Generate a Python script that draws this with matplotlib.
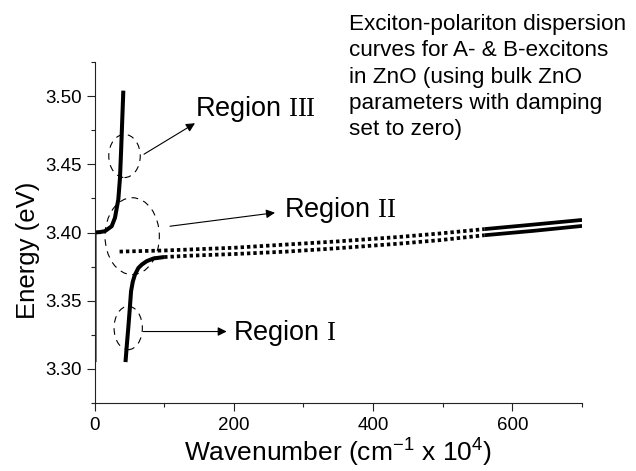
import matplotlib
matplotlib.use("Agg")
import matplotlib.pyplot as plt
from matplotlib.patches import Ellipse
from matplotlib.ticker import MultipleLocator

plt.rcParams['font.family'] = ['Liberation Sans', 'DejaVu Sans']
plt.rcParams['mathtext.fontset'] = 'custom'
plt.rcParams['mathtext.rm'] = 'Liberation Serif'
plt.rcParams['mathtext.sf'] = 'Liberation Sans'

# ---- data (wavenumber in cm^-1 x 10^4, energy in eV) ----
# upper polariton branch (solid), incl. the vertical segment drawn at k = 0
upb_k = [0, 0, 8, 15, 24.7, 29.4, 34.2, 36.6, 38.2, 39.8, 41.4]
upb_E = [3.305, 3.400, 3.4003, 3.401, 3.4046, 3.4108, 3.4243, 3.440, 3.460, 3.482, 3.504]

# lower polariton branch, steep solid part
lpb_k = [44.5, 46.5, 48.5, 50.5, 52.5, 55, 58, 63, 68, 75, 85, 100]
lpb_E = [3.305, 3.318, 3.330, 3.343, 3.357, 3.364, 3.369, 3.374, 3.3765, 3.379, 3.381, 3.382]

# lower polariton branch, flat part (dotted, then solid where points are dense)
lpb2_k = [100, 137, 200, 276, 350, 439, 496, 560]
lpb2_E = [3.3820, 3.3830, 3.3842, 3.3860, 3.3885, 3.3919, 3.3944, 3.3980]
lpb3_k = [560, 630, 700]
lpb3_E = [3.3980, 3.4012, 3.4048]

# second (B-exciton) branch, dotted then solid
exb_k = [36, 100, 200, 276, 350, 439, 496, 560]
exb_E = [3.3860, 3.3868, 3.3888, 3.3912, 3.3935, 3.3968, 3.3993, 3.4025]
exb2_k = [560, 630, 700]
exb2_E = [3.4025, 3.4058, 3.4092]

# region markers: (center k, center E, width k, height E)
ellipses = [(43.1, 3.4561, 45.2, 0.0316),
            (54.1, 3.3973, 78.0, 0.0564),
            (48.4, 3.3300, 40.6, 0.0318)]
region_labels = [r'Region $\mathrm{III}$', r'Region $\mathrm{II}$', r'Region $\mathrm{I}$']
arrow_start = [(71.1, 3.4574), (108.4, 3.4046), (70.1, 3.3274)]
arrow_end = [(144.3, 3.4801), (259.2, 3.4145), (189.8, 3.3274)]
label_pos = [(144.3, 3.4851), (272.1, 3.4115), (199.3, 3.3213)]

note = ("Exciton-polariton dispersion\ncurves for A- & B-excitons\n"
        "in ZnO (using bulk ZnO\nparameters with damping\nset to zero)")

fig = plt.figure(figsize=(6.36, 4.71), dpi=100)
ax = fig.add_axes([94.5 / 636, 68 / 471, 487.5 / 636, 341 / 471])

solid_lw = 2.9
dot_lw = 2.7
ax.plot(upb_k, upb_E, color='black', lw=solid_lw, solid_capstyle='butt', solid_joinstyle='round')
ax.plot(lpb_k, lpb_E, color='black', lw=solid_lw, solid_capstyle='butt', solid_joinstyle='round')
ax.plot(lpb2_k, lpb2_E, color='black', lw=dot_lw, linestyle=(0, (0.9, 0.8)), dash_capstyle='butt')
ax.plot(lpb3_k, lpb3_E, color='black', lw=dot_lw, solid_capstyle='butt')
ax.plot(exb_k, exb_E, color='black', lw=dot_lw, linestyle=(0, (0.9, 0.8)), dash_capstyle='butt')
ax.plot(exb2_k, exb2_E, color='black', lw=dot_lw, solid_capstyle='butt')

for (cx, cy, w, h) in ellipses:
    ax.add_patch(Ellipse((cx, cy), w, h, fill=False, edgecolor='black', lw=0.8,
                         linestyle=(0, (6, 5)), zorder=3))

for s, e, p, t in zip(arrow_start, arrow_end, label_pos, region_labels):
    ax.annotate('', xy=e, xytext=s,
                arrowprops=dict(arrowstyle='-|>', color='black', lw=0.8,
                                mutation_scale=13, shrinkA=0, shrinkB=0))
    ax.text(p[0], p[1], t, fontsize=19.5, ha='left', va='baseline')

ax.set_xlim(0, 700)
ax.set_ylim(3.275, 3.525)
ax.xaxis.set_major_locator(MultipleLocator(200))
ax.xaxis.set_minor_locator(MultipleLocator(100))
ax.yaxis.set_major_locator(MultipleLocator(0.05))
ax.yaxis.set_minor_locator(MultipleLocator(0.025))
ax.yaxis.set_major_formatter(matplotlib.ticker.FormatStrFormatter('%.2f'))

for side in ('top', 'right'):
    ax.spines[side].set_visible(False)
for side in ('left', 'bottom'):
    ax.spines[side].set_linewidth(0.8)
    ax.spines[side].set_color('#222222')

ax.tick_params(which='major', direction='out', length=5.8, width=0.8, color='#222222',
               labelsize=13.5)
ax.tick_params(which='minor', direction='out', length=3.2, width=0.8, color='#222222')
ax.tick_params(axis='y', which='major', pad=3)
ax.tick_params(axis='x', which='major', pad=4)

ax.set_ylabel('Energy (eV)', fontsize=18.5)
ax.yaxis.set_label_coords(-0.112, 0.4466)
ax.set_xlabel(r'Wavenumber (cm$^{\mathsf{-1}}$ x 10$^{\mathsf{4}}$)', fontsize=19)
ax.xaxis.set_label_coords(0.5, -0.095)
ax.xaxis.label.set_va('top')

fig.text(349 / 636, 1 - 14 / 471, note, fontsize=16.2, ha='left', va='top', linespacing=1.33)

fig.savefig('out.png', dpi=100)
